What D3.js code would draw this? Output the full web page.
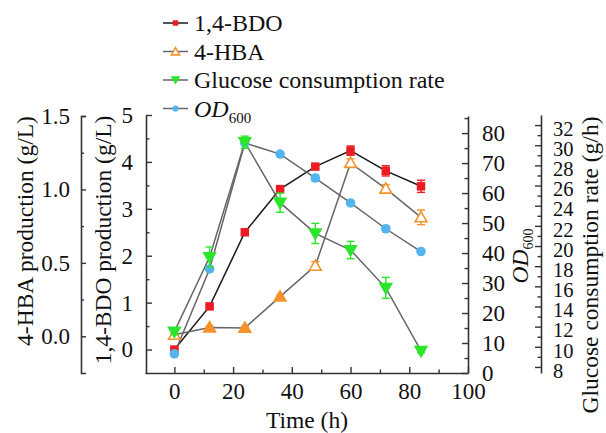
<!DOCTYPE html>
<html><head><meta charset="utf-8">
<script src="https://cdn.jsdelivr.net/npm/d3@7"></script>
<style>body{margin:0;background:#fff}svg{display:block}text{font-family:"Liberation Serif","Times New Roman",Times,"DejaVu Serif",serif !important;fill:#111}</style>
</head><body><svg id="c" width="606" height="433"></svg>
<script>
const times = [0, 12, 24, 36, 48, 60, 72, 84];
const bdo = [0.0, 0.92, 2.5, 3.42, 3.9, 4.24, 3.81, 3.48];
const bdoErr = [0.02, 0.03, 0.05, 0.04, 0.04, 0.1, 0.11, 0.13];
const hba = [0.01, 0.06, 0.057, 0.27, 0.48, 1.18, 1.005, 0.81];
const hbaErr = [0.01, 0.01, 0.01, 0.01, 0.028, 0.028, 0.028, 0.05];
const glucose = [11.5, 18.9, 30.3, 24.3, 21.25, 19.6, 15.85, 9.6];
const glucoseErr = [0.3, 1.0, 0.6, 0.95, 1.0, 0.86, 1.04, 0.2];
const od = [6.4, 34.7, 76.7, 73, 65, 56.7, 48.1, 40.5];
const odErr = [0.4, 0.5, 0.5, 0.5, 1.0, 0.5, 0.5, 0.5];
const xTicks = [0, 20, 40, 60, 80, 100];
const bdoTicks = [0, 1, 2, 3, 4, 5];
const hbaTicks = [0.0, 0.5, 1.0, 1.5];
const odTicks = [0, 10, 20, 30, 40, 50, 60, 70, 80];
const gluTicks = [8, 10, 12, 14, 16, 18, 20, 22, 24, 26, 28, 30, 32];
const legendLabels = ["1,4-BDO", "4-HBA", "Glucose consumption rate", "OD"];

const FONT = '"Liberation Serif","Times New Roman",Times,"DejaVu Serif",serif';
const svg = d3.select("#c");
const x = d3.scaleLinear().domain([-10, 100]).range([145, 468]);
const yB = d3.scaleLinear().domain([-0.5, 5]).range([373, 115]);
const yH = d3.scaleLinear().domain([-0.25, 1.5]).range([373, 116]);
const yO = d3.scaleLinear().domain([0, 85.7]).range([373, 116]);
const yG = d3.scaleLinear().domain([7.4, 33]).range([373, 115]);

const AX = "#333";
const C = {red: "#ec1c24", orange: "#f5922a", green: "#2be52b", blue: "#53b4ee"};

function styleAxis(g, fs) {
  g.attr("font-family", FONT);
  g.selectAll(".domain").attr("stroke", AX).attr("stroke-width", 1.6);
  g.selectAll(".tick line").attr("stroke", AX).attr("stroke-width", 1.4);
  g.selectAll(".tick text").attr("font-size", fs).attr("fill", "#111");
}
function minorAxis(axis, tr) {
  svg.append("g").attr("transform", tr).call(axis)
    .call(g => { g.select(".domain").remove(); g.selectAll("line").attr("stroke", AX).attr("stroke-width", 1.4); });
}

// X axis
const gx = svg.append("g").attr("transform", "translate(0,373)")
  .call(d3.axisBottom(x).tickValues(xTicks).tickSize(-6).tickSizeOuter(0).tickPadding(12).tickFormat(d3.format("d")));
styleAxis(gx, 23);
gx.selectAll(".tick text").attr("dy", "0.62em");
minorAxis(d3.axisBottom(x).tickValues([10, 30, 50, 70, 90]).tickSize(-3.5).tickFormat(""), "translate(0,373)");

// BDO axis (left inner)
const gb = svg.append("g").attr("transform", "translate(146,0)")
  .call(d3.axisLeft(yB).tickValues(bdoTicks).tickSize(-6).tickSizeOuter(0).tickPadding(13).tickFormat(d3.format("d")));
styleAxis(gb, 23);
minorAxis(d3.axisLeft(yB).tickValues([0.5, 1.5, 2.5, 3.5, 4.5]).tickSize(-3.5).tickFormat(""), "translate(146,0)");

// HBA axis (far left)
const gh = svg.append("g").attr("transform", "translate(81,0)")
  .call(d3.axisLeft(yH).tickValues(hbaTicks).tickSize(-5).tickSizeOuter(-5).tickPadding(11).tickFormat(d3.format(".1f")));
styleAxis(gh, 23);
minorAxis(d3.axisLeft(yH).tickValues([0.25, 0.75, 1.25]).tickSize(-3).tickFormat(""), "translate(81,0)");

// OD axis (right)
const go = svg.append("g").attr("transform", "translate(468,0)")
  .call(d3.axisRight(yO).tickValues(odTicks).tickSize(-6).tickSizeOuter(0).tickPadding(14));
styleAxis(go, 23);
minorAxis(d3.axisRight(yO).tickValues([5, 15, 25, 35, 45, 55, 65, 75, 85]).tickSize(-3.5).tickFormat(""), "translate(468,0)");

// Glucose axis (far right)
const gg = svg.append("g").attr("transform", "translate(541,0)")
  .call(d3.axisRight(yG).tickValues(gluTicks).tickSize(-6).tickSizeOuter(0).tickPadding(12));
styleAxis(gg, 20.5);
gg.selectAll(".tick text").attr("dy", "0.5em");
minorAxis(d3.axisRight(yG).tickValues(d3.range(9, 33, 2)).tickSize(-3.5).tickFormat(""), "translate(541,0)");

// Axis titles
const T = svg.append("g").attr("font-family", FONT);
T.append("text").attr("transform", "translate(33,231) rotate(-90)").attr("text-anchor", "middle").attr("font-size", 23.5).text("4-HBA production (g/L)");
T.append("text").attr("transform", "translate(111,240) rotate(-90)").attr("text-anchor", "middle").attr("font-size", 23.5).text("1,4-BDO production (g/L)");
T.append("text").attr("x", 307).attr("y", 428).attr("text-anchor", "middle").attr("font-size", 23.5).text("Time (h)");
const odT = T.append("text").attr("transform", "translate(528,256) rotate(-90)").attr("text-anchor", "middle").attr("font-size", 23.5);
odT.append("tspan").attr("font-style", "italic").text("OD");
odT.append("tspan").attr("font-size", 14).attr("dy", 5).text("600");
T.append("text").attr("transform", "translate(598,265) rotate(-90)").attr("text-anchor", "middle").attr("font-size", 23.5).text("Glucose consumption rate (g/h)");

// Series
const series = [
  {vals: bdo, err: bdoErr, y: yB, color: C.red, line: "#1a1a1a", sym: "square"},
  {vals: hba, err: hbaErr, y: yH, color: C.orange, line: "#666", sym: "tri"},
  {vals: od, err: odErr, y: yO, color: C.blue, line: "#666", sym: "circle"},
  {vals: glucose, err: glucoseErr, y: yG, color: C.green, line: "#666", sym: "down"}
];
const hbaFilled = [false, true, true, true, false, false, false, false];

function drawMarker(g, s, px, py, i, size) {
  if (s.sym === "square") {
    g.append("path").attr("d", d3.symbol(d3.symbolSquare, size || 72)()).attr("transform", `translate(${px},${py})`).attr("fill", s.color);
  } else if (s.sym === "circle") {
    g.append("path").attr("d", d3.symbol(d3.symbolCircle, size || 72)()).attr("transform", `translate(${px},${py})`).attr("fill", s.color);
  } else if (s.sym === "tri") {
    const filled = i === undefined ? false : hbaFilled[i];
    g.append("path").attr("d", d3.symbol(d3.symbolTriangle, size || 60)()).attr("transform", `translate(${px},${py + 1})`)
      .attr("fill", filled ? s.color : "#fff").attr("stroke", s.color).attr("stroke-width", 1.6);
  } else {
    g.append("path").attr("d", d3.symbol(d3.symbolTriangle, size || 90)()).attr("transform", `translate(${px},${py - 1}) rotate(180)`).attr("fill", s.color);
  }
}

series.forEach(s => {
  const line = d3.line().x((d, i) => x(times[i])).y(d => s.y(d));
  svg.append("path").datum(s.vals).attr("d", line).attr("fill", "none").attr("stroke", s.line).attr("stroke-width", 1.5);
});
series.forEach(s => {
  const g = svg.append("g");
  s.vals.forEach((v, i) => {
    const px = x(times[i]);
    const y1 = s.y(v - s.err[i]), y2 = s.y(v + s.err[i]);
    g.append("line").attr("x1", px).attr("x2", px).attr("y1", y1).attr("y2", y2).attr("stroke", s.color).attr("stroke-width", 1.4);
    [y1, y2].forEach(yy => g.append("line").attr("x1", px - 4).attr("x2", px + 4).attr("y1", yy).attr("y2", yy).attr("stroke", s.color).attr("stroke-width", 1.4));
    drawMarker(g, s, px, s.y(v), i);
  });
});

// Legend
const legOrder = [0, 1, 3, 2];
legOrder.forEach((si, r) => {
  const s = series[si];
  const yy = 23 + r * 28.5;
  const g = svg.append("g").attr("font-family", FONT);
  g.append("line").attr("x1", 163).attr("x2", 188).attr("y1", yy).attr("y2", yy).attr("stroke", s.line).attr("stroke-width", 1.5);
  drawMarker(g, s, 175.5, yy, undefined, s.sym === "down" ? 40 : 30);
  const t = g.append("text").attr("x", 194).attr("y", yy).attr("dy", "0.35em").attr("font-size", 24);
  if (r === 3) {
    t.append("tspan").attr("font-style", "italic").text(legendLabels[r]);
    t.append("tspan").attr("font-size", 15).attr("dy", 6).text("600");
  } else t.text(legendLabels[r]);
});
</script></body></html>
